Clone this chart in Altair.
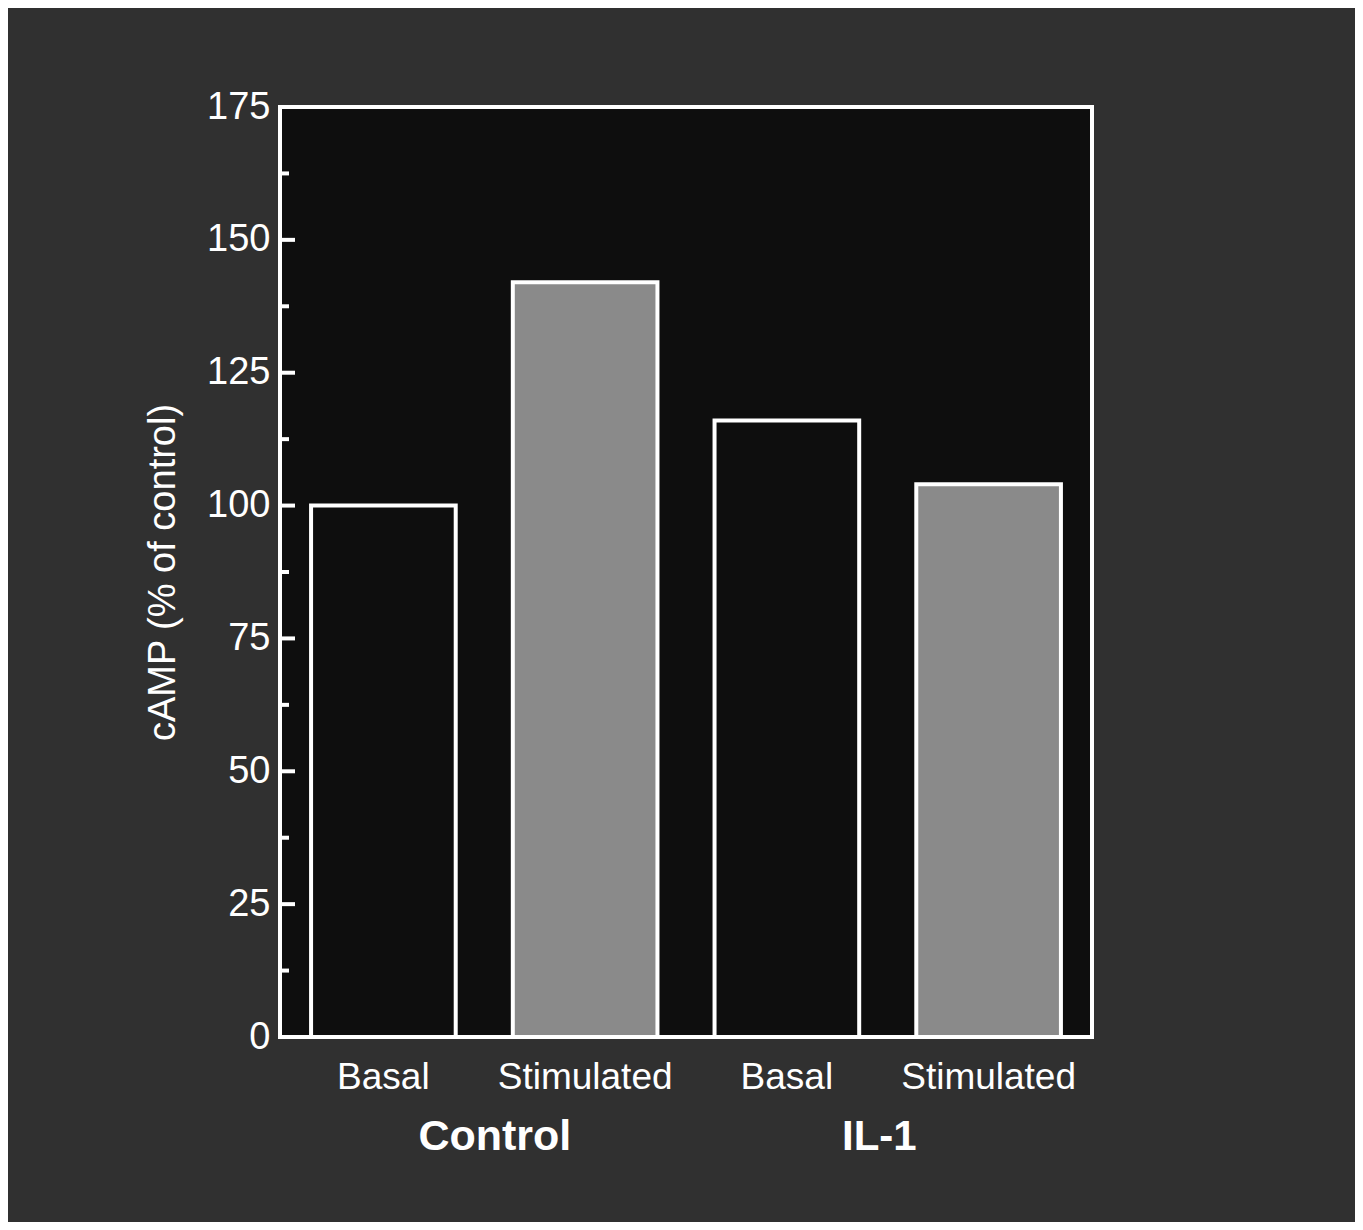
import altair as alt
import pandas as pd

groups = ["Control", "Control", "IL-1", "IL-1"]
conditions = ["Basal", "Stimulated", "Basal", "Stimulated"]
values = [100, 142, 116, 104]
major_ticks = [0, 25, 50, 75, 100, 125, 150, 175]
minor_ticks = [12.5, 37.5, 62.5, 87.5, 112.5, 137.5, 162.5]

W, H = 812, 930
FONT = "Liberation Sans"

keys = [f"{g}|{c}" for g, c in zip(groups, conditions)]
df = pd.DataFrame({"key": keys, "group": groups, "cond": conditions, "value": values})
order = keys

xscale = alt.Scale(domain=order, paddingInner=0.283, paddingOuter=0.154)
yscale = alt.Scale(domain=[0, 175], nice=False, zero=True)

bars = alt.Chart(df).mark_bar(stroke="white", strokeWidth=4).encode(
    x=alt.X("key:N", scale=xscale, sort=order,
            axis=alt.Axis(title=None, labelExpr="split(datum.label, '|')[1]",
                          labelAngle=0, labelFontSize=37, labelColor="white",
                          labelFont=FONT, labelPadding=22, ticks=False, domain=False)),
    y=alt.Y("value:Q", scale=yscale,
            axis=alt.Axis(title="cAMP (% of control)", values=major_ticks, format="d",
                          labelFontSize=38, labelColor="white", labelFont=FONT,
                          labelPadding=10, ticks=False, domain=False, grid=False,
                          titleFontSize=38, titleColor="white", titleFont=FONT,
                          titleFontWeight="normal", titlePadding=24)),
    color=alt.Color("cond:N", scale=alt.Scale(domain=["Basal", "Stimulated"],
                                              range=["#0e0e0e", "#8a8a8a"]), legend=None),
)

tick_df = pd.DataFrame({"v": major_ticks + minor_ticks,
                        "kind": ["major"] * len(major_ticks) + ["minor"] * len(minor_ticks)})
major = alt.Chart(tick_df).transform_filter("datum.kind == 'major'").mark_rule(
    color="white", strokeWidth=4).encode(
    y=alt.Y("v:Q", scale=yscale), x=alt.value(0), x2=alt.value(15))
minor = alt.Chart(tick_df).transform_filter("datum.kind == 'minor'").mark_rule(
    color="white", strokeWidth=4).encode(
    y=alt.Y("v:Q", scale=yscale), x=alt.value(0), x2=alt.value(9))

grp_df = pd.DataFrame({"group": ["Control", "IL-1"], "key": ["Control|Stimulated", "IL-1|Stimulated"]})
lab_ctrl = alt.Chart(grp_df).transform_filter("datum.group == 'Control'").mark_text(
    font=FONT, fontSize=43, fontWeight="bold", color="white", dx=-18, baseline="middle").encode(
    x=alt.X("key:N", scale=xscale, sort=order, bandPosition=0), y=alt.value(H + 100), text="group:N")
lab_il = alt.Chart(grp_df).transform_filter("datum.group == 'IL-1'").mark_text(
    font=FONT, fontSize=42, fontWeight="bold", color="white", dx=-37, baseline="middle").encode(
    x=alt.X("key:N", scale=xscale, sort=order, bandPosition=0), y=alt.value(H + 100), text="group:N")

chart = alt.layer(bars, major, minor, lab_ctrl, lab_il).properties(
    width=W, height=H,
    autosize=alt.AutoSizeParams(type="none"),
    padding={"left": 272, "top": 99, "right": 263, "bottom": 185},
    background="#303030",
).configure_view(fill="#0e0e0e", stroke="white", strokeWidth=4)

chart.save("out.html", embed_options={"renderer": "svg", "actions": False})
